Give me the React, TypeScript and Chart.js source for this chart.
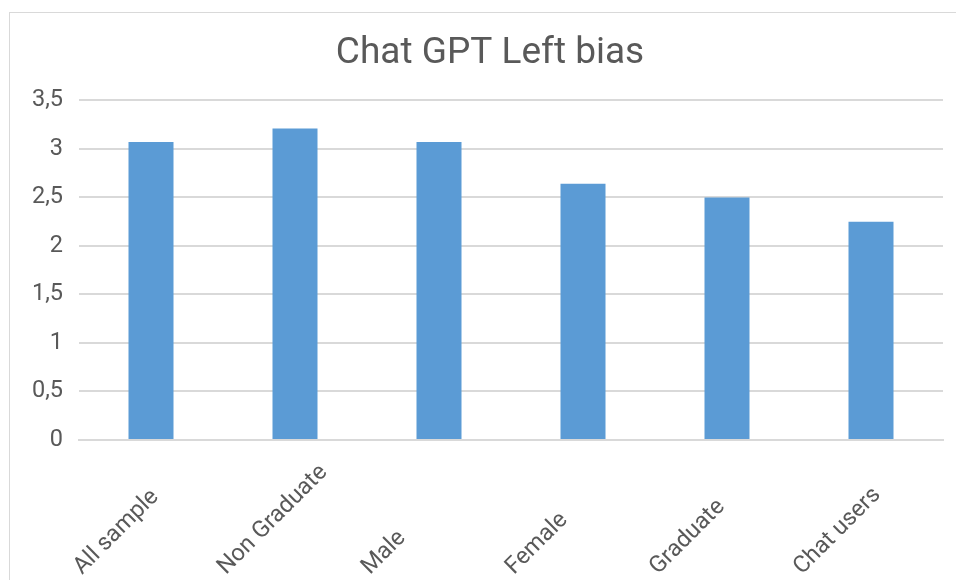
import React, { useEffect, useRef } from "react";
import { Chart, registerables } from "chart.js";

Chart.register(...registerables);

const categories = ["All sample", "Non Graduate", "Male", "Female", "Graduate", "Chat users"];
const values = [3.07, 3.21, 3.07, 2.64, 2.5, 2.25];
const chartTitle = "Chat GPT Left bias";
const yMin = 0;
const yMax = 3.5;
const yStep = 0.5;

const TEXT_COLOR = "#595959";
const FONT_FAMILY = "Roboto";
const TICK_SIZE = 23.5;

const rotatedLabels = {
  id: "rotatedLabels",
  afterDraw(chart: any) {
    const ctx = chart.ctx;
    const xs = chart.scales.x;
    ctx.save();
    ctx.font = `${TICK_SIZE}px ${FONT_FAMILY}`;
    ctx.fillStyle = TEXT_COLOR;
    ctx.textAlign = "left";
    ctx.textBaseline = "alphabetic";
    categories.forEach((label, i) => {
      const x = xs.getPixelForTick(i) - 69;
      const y = xs.top + 135;
      ctx.save();
      ctx.translate(x, y);
      ctx.rotate(-Math.PI / 4);
      ctx.fillText(label, 0, 0);
      ctx.restore();
    });
    ctx.restore();
  },
};

export default function App() {
  const ref = useRef<HTMLCanvasElement | null>(null);

  useEffect(() => {
    if (!ref.current) return;
    const chart = new Chart(ref.current, {
      type: "bar",
      data: {
        labels: categories,
        datasets: [
          {
            data: values,
            backgroundColor: "#5B9BD5",
            borderWidth: 0,
            barPercentage: 0.3125,
            categoryPercentage: 1,
          },
        ],
      },
      plugins: [rotatedLabels],
      options: {
        animation: false,
        responsive: false,
        maintainAspectRatio: false,
        layout: { padding: 0 },
        plugins: {
          legend: { display: false },
          tooltip: { enabled: false },
          title: {
            display: true,
            text: chartTitle,
            color: TEXT_COLOR,
            font: { family: FONT_FAMILY, size: 37, weight: "normal" },
            padding: { top: 20, bottom: 24 },
          },
        },
        scales: {
          x: {
            grid: { display: false },
            border: { display: true, color: "#d9d9d9", width: 2 },
            ticks: { display: false },
            afterFit: (scale: any) => {
              scale.height = 140;
            },
          },
          y: {
            min: yMin,
            max: yMax,
            border: { display: false },
            grid: { color: "#d9d9d9", lineWidth: 2, drawTicks: false },
            ticks: {
              stepSize: yStep,
              color: TEXT_COLOR,
              font: { family: FONT_FAMILY, size: TICK_SIZE },
              padding: 16,
              callback: (v: any) => String(v).replace(".", ","),
            },
            afterFit: (scale: any) => {
              scale.width = 70;
            },
          },
          yRight: {
            position: "right",
            min: yMin,
            max: yMax,
            grid: { display: false },
            border: { display: false },
            ticks: { display: false },
            afterFit: (scale: any) => {
              scale.width = 28;
            },
          },
        },
      },
    });
    return () => chart.destroy();
  }, []);

  return (
    <div
      style={{
        position: "fixed",
        left: 0,
        top: 0,
        width: 956,
        height: 580,
        overflow: "hidden",
        background: "#fff",
      }}
    >
      <div
        style={{
          position: "absolute",
          left: 9,
          top: 12,
          width: 965,
          height: 600,
          border: "1px solid #d9d9d9",
          boxSizing: "border-box",
        }}
      />
      <canvas
        ref={ref}
        width={962}
        height={568}
        style={{ position: "absolute", left: 9, top: 12, width: 962, height: 568 }}
      />
    </div>
  );
}
